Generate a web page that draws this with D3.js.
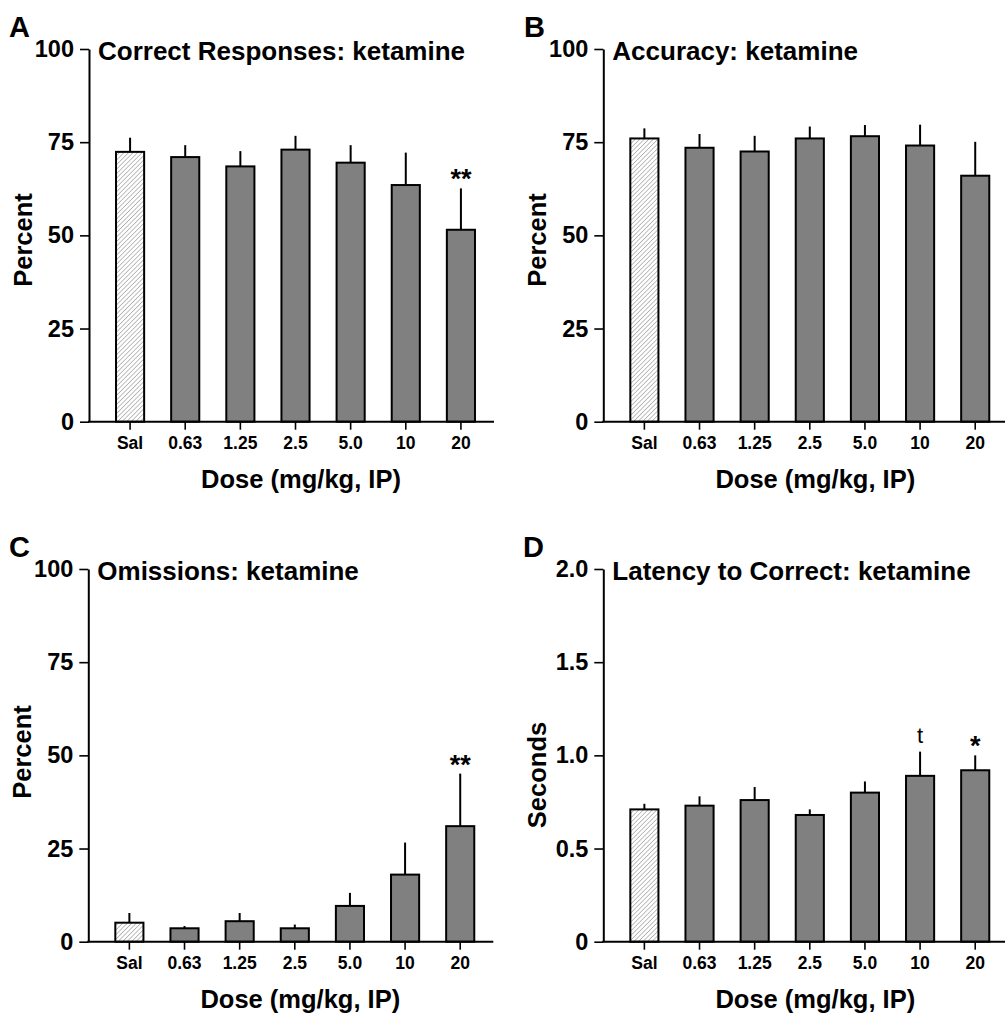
<!DOCTYPE html>
<html>
<head>
<meta charset="utf-8">
<script src="https://cdn.jsdelivr.net/npm/d3@7"></script>
<style>
  body { margin: 0; background: #fff; }
  text { font-family: "Liberation Sans", Arial, sans-serif; font-weight: bold; fill: #000; }
</style>
</head>
<body>
<div id="chart"></div>
<script>
// doses on the x axis
var doses = ["Sal", "0.63", "1.25", "2.5", "5.0", "10", "20"];

// A: correct responses (%)
var correctMean = [72.4, 71.0, 68.5, 73.0, 69.5, 63.5, 51.5];
var correctSem  = [3.8, 3.2, 4.1, 3.7, 4.7, 8.7, 11.1];
var correctMarks = ["", "", "", "", "", "", "**"];

// B: accuracy (%)
var accuracyMean = [76.0, 73.5, 72.5, 76.0, 76.6, 74.1, 66.0];
var accuracySem  = [2.7, 3.7, 4.2, 3.2, 3.0, 5.6, 9.1];
var accuracyMarks = ["", "", "", "", "", "", ""];

// C: omissions (%)
var omissionMean = [5.1, 3.6, 5.5, 3.6, 9.6, 18.0, 31.0];
var omissionSem  = [2.6, 0.6, 2.2, 1.0, 3.5, 8.6, 14.1];
var omissionMarks = ["", "", "", "", "", "", "**"];

// D: latency to correct (s)
var latencyMean = [0.71, 0.73, 0.76, 0.68, 0.80, 0.89, 0.92];
var latencySem  = [0.03, 0.05, 0.07, 0.03, 0.06, 0.13, 0.08];
var latencyMarks = ["", "", "", "", "", "t", "*"];

// y ticks
var percentTicks = [0, 25, 50, 75, 100];
var percentLabels = ["0", "25", "50", "75", "100"];
var secondTicks = [0, 0.5, 1.0, 1.5, 2.0];
var secondLabels = ["0", "0.5", "1.0", "1.5", "2.0"];

var svg = d3.select("#chart")
  .append("svg")
  .attr("width", 1005)
  .attr("height", 1017);

svg.append("rect").attr("width", 1005).attr("height", 1017).attr("fill", "#fff");

// hatch for the saline bar
var defs = svg.append("defs");
defs.append("pattern")
  .attr("id", "hatch")
  .attr("patternUnits", "userSpaceOnUse")
  .attr("width", 3.2)
  .attr("height", 3.2)
  .attr("patternTransform", "rotate(45)")
  .call(function(p) {
    p.append("rect").attr("width", 3.2).attr("height", 3.2).attr("fill", "#fff");
    p.append("line")
      .attr("x1", 0).attr("y1", 0).attr("x2", 0).attr("y2", 3.2)
      .attr("stroke", "#8a8a8a").attr("stroke-width", 1.1);
  });

var panels = [
  {letter: "A", lx: 9, ly: 37, ax: 89, top: 49, bottom: 421.7, title: "Correct Responses: ketamine",
   mean: correctMean, sem: correctSem, marks: correctMarks, max: 100,
   ticks: percentTicks, labels: percentLabels, ylabel: "Percent", ylabelY: 240},
  {letter: "B", lx: 524, ly: 37, ax: 603.3, top: 49, bottom: 421.7, title: "Accuracy: ketamine",
   mean: accuracyMean, sem: accuracySem, marks: accuracyMarks, max: 100,
   ticks: percentTicks, labels: percentLabels, ylabel: "Percent", ylabelY: 240},
  {letter: "C", lx: 9, ly: 557, ax: 88.3, top: 569, bottom: 941.7, title: "Omissions: ketamine",
   mean: omissionMean, sem: omissionSem, marks: omissionMarks, max: 100,
   ticks: percentTicks, labels: percentLabels, ylabel: "Percent", ylabelY: 752},
  {letter: "D", lx: 523, ly: 557, ax: 603.3, top: 569, bottom: 941.7, title: "Latency to Correct: ketamine",
   mean: latencyMean, sem: latencySem, marks: latencyMarks, max: 2,
   ticks: secondTicks, labels: secondLabels, ylabel: "Seconds", ylabelY: 775}
];

panels.forEach(function(p) {
  var g = svg.append("g");

  var x = d3.scaleBand()
    .domain(doses)
    .range([p.ax, p.ax + 413])
    .paddingInner(0.49)
    .paddingOuter(0.49);

  var y = d3.scaleLinear()
    .domain([0, p.max])
    .range([p.bottom, p.top]);

  var rows = doses.map(function(d, i) {
    return {dose: d, mean: p.mean[i], sem: p.sem[i], mark: p.marks[i]};
  });

  // error bars (upper only)
  g.selectAll(".err")
    .data(rows)
    .enter().append("line")
    .attr("x1", function(d) { return x(d.dose) + x.bandwidth() / 2; })
    .attr("x2", function(d) { return x(d.dose) + x.bandwidth() / 2; })
    .attr("y1", function(d) { return y(d.mean); })
    .attr("y2", function(d) { return y(d.mean + d.sem); })
    .attr("stroke", "#000")
    .attr("stroke-width", 2);

  // bars
  g.selectAll(".bar")
    .data(rows)
    .enter().append("rect")
    .attr("x", function(d) { return x(d.dose); })
    .attr("y", function(d) { return y(d.mean); })
    .attr("width", x.bandwidth())
    .attr("height", function(d) { return y(0) - y(d.mean); })
    .attr("fill", function(d, i) { return i === 0 ? "url(#hatch)" : "#808080"; })
    .attr("stroke", "#000")
    .attr("stroke-width", 2);

  // significance marks
  g.selectAll(".mark")
    .data(rows.filter(function(d) { return d.mark !== ""; }))
    .enter().append("text")
    .attr("x", function(d) { return x(d.dose) + x.bandwidth() / 2; })
    .attr("y", function(d) { return y(d.mean + d.sem) + (d.mark === "t" ? -9 : 0); })
    .attr("text-anchor", "middle")
    .style("font-size", function(d) { return d.mark === "t" ? "22px" : "27px"; })
    .style("font-weight", function(d) { return d.mark === "t" ? "normal" : "bold"; })
    .text(function(d) { return d.mark; });

  // y axis
  var yAxis = g.append("g")
    .attr("transform", "translate(" + p.ax + ",0)")
    .call(d3.axisLeft(y)
      .tickValues(p.ticks)
      .tickFormat(function(d, i) { return p.labels[i]; })
      .tickSize(9)
      .tickSizeOuter(0)
      .tickPadding(6));
  yAxis.select(".domain").attr("stroke-width", 2);
  yAxis.selectAll(".tick line").attr("stroke-width", 1.6);
  yAxis.selectAll("text")
    .style("font-size", "23.5px")
    .style("font-family", "'Liberation Sans', Arial, sans-serif")
    .style("font-weight", "bold");

  // x axis
  var xAxis = g.append("g")
    .attr("transform", "translate(0," + p.bottom + ")")
    .call(d3.axisBottom(x).tickSize(8).tickSizeOuter(0).tickPadding(7));
  xAxis.select(".domain").remove();
  xAxis.selectAll(".tick line").attr("stroke-width", 1.6);
  xAxis.selectAll("text")
    .style("font-size", "17.5px")
    .style("font-family", "'Liberation Sans', Arial, sans-serif")
    .style("font-weight", "bold");
  g.append("line")
    .attr("x1", p.ax - 1).attr("x2", p.ax + 405)
    .attr("y1", p.bottom).attr("y2", p.bottom)
    .attr("stroke", "#000").attr("stroke-width", 2);

  // axis titles
  g.append("text")
    .attr("x", p.ax + 212)
    .attr("y", p.bottom + 66)
    .attr("text-anchor", "middle")
    .style("font-size", "25.5px")
    .text("Dose (mg/kg, IP)");

  g.append("text")
    .attr("transform", "translate(" + (p.ax - 57) + "," + p.ylabelY + ") rotate(-90)")
    .attr("text-anchor", "middle")
    .style("font-size", "25.5px")
    .text(p.ylabel);

  // panel title
  g.append("text")
    .attr("x", p.ax + 9)
    .attr("y", p.top + 11)
    .style("font-size", "26px")
    .text(p.title);

  // panel letter
  svg.append("text")
    .attr("x", p.lx)
    .attr("y", p.ly)
    .style("font-size", "29px")
    .text(p.letter);
});
</script>
</body>
</html>
